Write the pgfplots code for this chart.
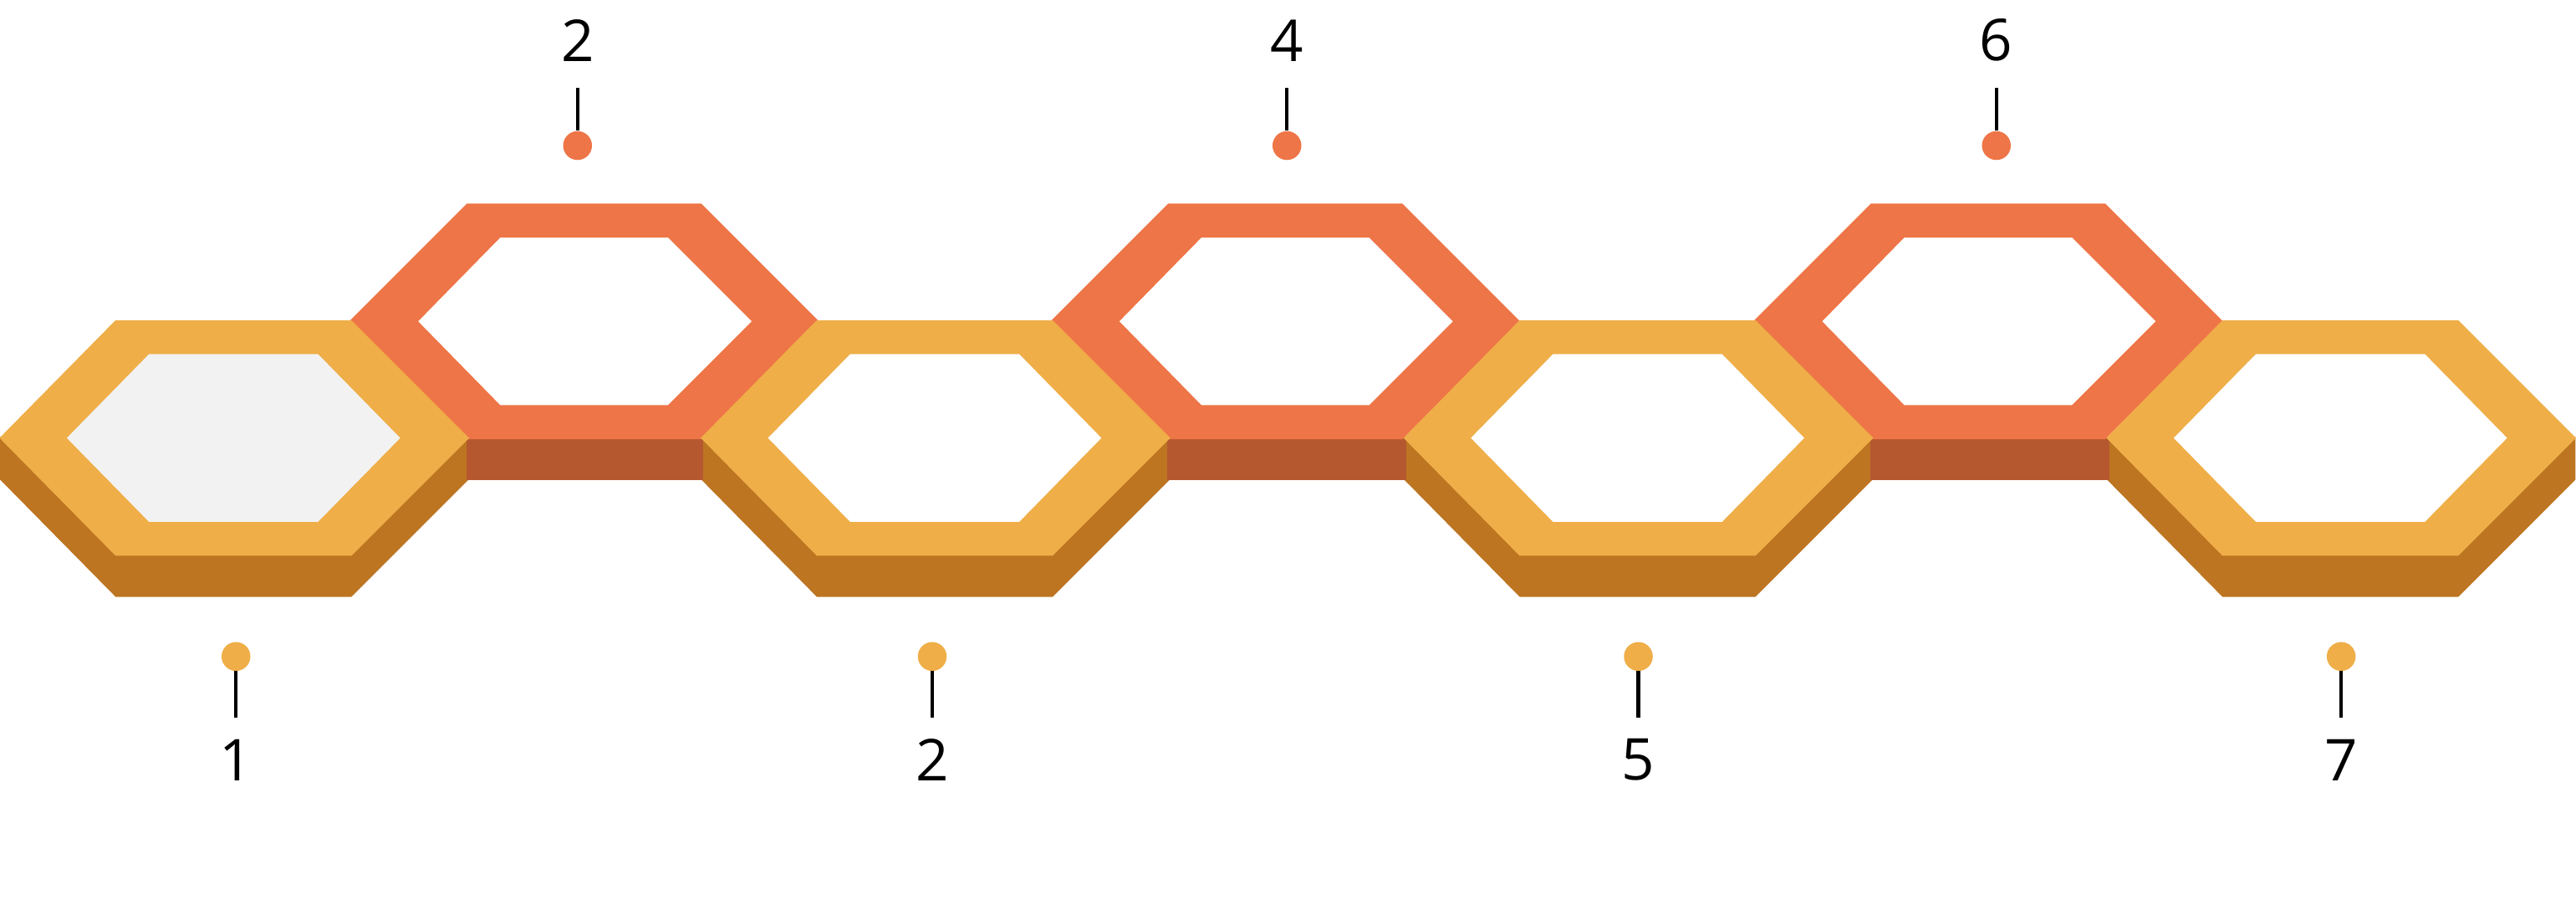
\documentclass[border=0pt]{standalone}
\usepackage{pgfplots}
\pgfplotsset{compat=1.18}
\usepackage{fontspec}
\setmainfont{Open Sans}
\definecolor{yel}{HTML}{EFAE48}
\definecolor{yeld}{HTML}{BD7522}
\definecolor{red}{HTML}{EE7547}
\definecolor{redd}{HTML}{B55830}
\begin{document}
\begin{tikzpicture}
\begin{axis}[width=15.68cm,height=5.41cm,scale only axis,xmin=0,xmax=1568,ymin=0,ymax=541,hide axis,clip=false]
\addplot[draw=none] coordinates {(0,0)(1568,541)};
% yellow extrusions
\addplot[fill=yeld,draw=yeld,line width=0.4pt] coordinates {(0,281)(0,256)(70,185)(213,185)(284,256)(284,281)} --cycle;
\addplot[fill=yeld,draw=yeld,line width=0.4pt] coordinates {(427,281)(427,256)(497,185)(640,185)(711,256)(711,281)} --cycle;
\addplot[fill=yeld,draw=yeld,line width=0.4pt] coordinates {(855,281)(855,256)(925,185)(1068,185)(1139,256)(1139,281)} --cycle;
\addplot[fill=yeld,draw=yeld,line width=0.4pt] coordinates {(1283,281)(1283,256)(1353,185)(1496,185)(1567,256)(1567,281)} --cycle;
% red extrusions
\addplot[fill=redd,draw=redd,line width=0.4pt] coordinates {(284,281)(427,281)(427,256)(284,256)} --cycle;
\addplot[fill=redd,draw=redd,line width=0.4pt] coordinates {(711,281)(855,281)(855,256)(711,256)} --cycle;
\addplot[fill=redd,draw=redd,line width=0.4pt] coordinates {(1139,281)(1283,281)(1283,256)(1139,256)} --cycle;
% red faces
\addplot[fill=red,draw=red,line width=0.4pt] coordinates {(213,352)(284,423)(426,423)(497,352)(426,281)(284,281)} --cycle;
\addplot[fill=white,draw=none] coordinates {(254,352)(304,403)(406,403)(457,352)(406,301)(304,301)} --cycle;
\addplot[fill=red,draw=red,line width=0.4pt] coordinates {(640,352)(711,423)(853,423)(924,352)(853,281)(711,281)} --cycle;
\addplot[fill=white,draw=none] coordinates {(681,352)(731,403)(833,403)(884,352)(833,301)(731,301)} --cycle;
\addplot[fill=red,draw=red,line width=0.4pt] coordinates {(1068,352)(1139,423)(1281,423)(1352,352)(1281,281)(1139,281)} --cycle;
\addplot[fill=white,draw=none] coordinates {(1109,352)(1159,403)(1261,403)(1312,352)(1261,301)(1159,301)} --cycle;
% yellow faces
\addplot[fill=yel,draw=yel,line width=0.4pt] coordinates {(0,281)(70,352)(213,352)(284,281)(213,210)(70,210)} --cycle;
\addplot[fill=black!5,draw=none] coordinates {(40,281)(90,332)(193,332)(243,281)(193,230)(90,230)} --cycle;
\addplot[fill=yel,draw=yel,line width=0.4pt] coordinates {(427,281)(497,352)(640,352)(711,281)(640,210)(497,210)} --cycle;
\addplot[fill=white,draw=none] coordinates {(467,281)(517,332)(620,332)(670,281)(620,230)(517,230)} --cycle;
\addplot[fill=yel,draw=yel,line width=0.4pt] coordinates {(855,281)(925,352)(1068,352)(1139,281)(1068,210)(925,210)} --cycle;
\addplot[fill=white,draw=none] coordinates {(895,281)(945,332)(1048,332)(1098,281)(1048,230)(945,230)} --cycle;
\addplot[fill=yel,draw=yel,line width=0.4pt] coordinates {(1283,281)(1353,352)(1496,352)(1567,281)(1496,210)(1353,210)} --cycle;
\addplot[fill=white,draw=none] coordinates {(1323,281)(1373,332)(1476,332)(1526,281)(1476,230)(1373,230)} --cycle;
% leader lines
\addplot[black,line width=0.6pt] coordinates {(351,494)(351,468)};
\addplot[black,line width=0.6pt] coordinates {(783,494)(783,468)};
\addplot[black,line width=0.6pt] coordinates {(1215,494)(1215,468)};
\addplot[black,line width=0.6pt] coordinates {(143,140)(143,111)};
\addplot[black,line width=0.6pt] coordinates {(567,140)(567,111)};
\addplot[black,line width=0.6pt] coordinates {(997,140)(997,111)};
\addplot[black,line width=0.6pt] coordinates {(1425,140)(1425,111)};
% dots
\addplot[only marks,mark=*,mark size=2.3pt,red,mark options={draw=red,fill=red}] coordinates {(351,459)(783,459)(1215,459)};
\addplot[only marks,mark=*,mark size=2.3pt,yel,mark options={draw=yel,fill=yel}] coordinates {(143,148)(567,148)(997,148)(1425,148)};
% labels
\node[font=\fontsize{10}{12}\selectfont] at (axis cs:351,523) {2};
\node[font=\fontsize{10}{12}\selectfont] at (axis cs:783,523) {4};
\node[font=\fontsize{10}{12}\selectfont] at (axis cs:1215,523) {6};
\node[font=\fontsize{10}{12}\selectfont] at (axis cs:143,85) {1};
\node[font=\fontsize{10}{12}\selectfont] at (axis cs:567,85) {2};
\node[font=\fontsize{10}{12}\selectfont] at (axis cs:997,85) {5};
\node[font=\fontsize{10}{12}\selectfont] at (axis cs:1425,85) {7};
\end{axis}
\end{tikzpicture}
\end{document}
